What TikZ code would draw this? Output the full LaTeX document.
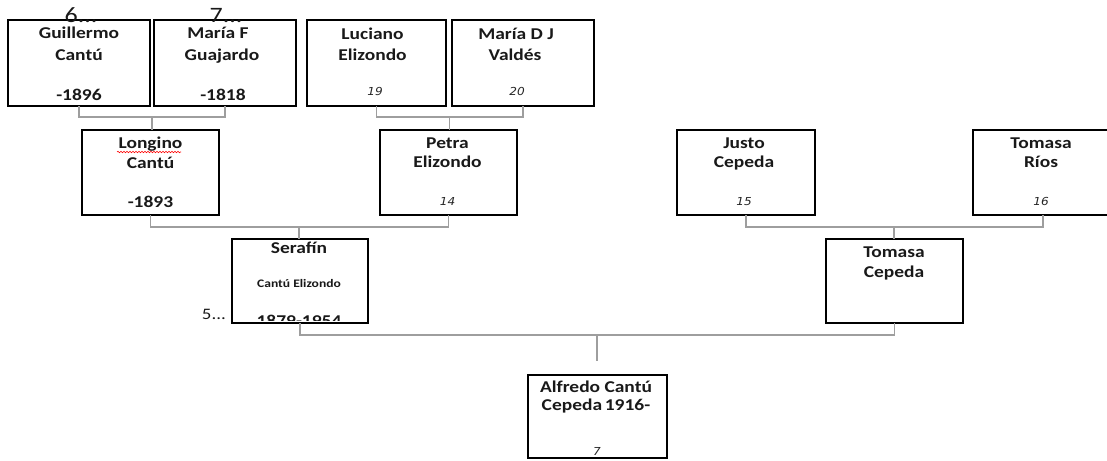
\documentclass[tikz,border=0pt]{standalone}
\usepackage{fontspec}
\setmainfont{Carlito}[FakeStretch=1.18]
\newfontfamily\numfont{DejaVu Sans}[FakeStretch=1.1]
\usetikzlibrary{decorations.pathmorphing}
\begin{document}
\begin{tikzpicture}[x=1pt,y=-1pt,
  box/.style={draw=black, line width=1.4pt, rectangle, inner sep=0pt, outer sep=0pt},
  conn/.style={draw=black!38, line width=1.3pt},
  nm/.style={font=\bfseries\fontsize{16.5}{19}\selectfont, anchor=base, inner sep=0pt, text=black!90},
  sm/.style={font=\bfseries\fontsize{11.5}{14}\selectfont, anchor=base, inner sep=0pt, text=black!90},
  num/.style={font=\numfont\itshape\fontsize{11}{12}\selectfont, anchor=base, inner sep=0pt, text=black!85},
  lab/.style={font=\fontsize{#1}{#1}\selectfont, anchor=base, inner sep=0pt, text=black!90}
]
\useasboundingbox (0,0) rectangle (1107,460);
\fill[white] (0,0) rectangle (1107,460);

% boxes
\node[box, minimum width=142, minimum height=86] (g)  at (79,63) {};
\node[box, minimum width=142, minimum height=86] (mf) at (225,63) {};
\node[box, minimum width=139, minimum height=86] (lu) at (376.5,63) {};
\node[box, minimum width=142, minimum height=86] (md) at (523,63) {};
\node[box, minimum width=137, minimum height=85] (lo) at (150.5,172.5) {};
\node[box, minimum width=137, minimum height=85] (pe) at (448.5,172.5) {};
\node[box, minimum width=138, minimum height=85] (ju) at (746,172.5) {};
\node[box, minimum width=140, minimum height=85] (tr) at (1043,172.5) {};
\node[box, minimum width=136, minimum height=84] (se) at (300,281) {};
\node[box, minimum width=137, minimum height=84] (tc) at (894.5,281) {};
\node[box, minimum width=139, minimum height=83] (al) at (597.5,416.5) {};

% connectors
\coordinate (j1) at (152,117);
\coordinate (j2) at (449.5,117);
\coordinate (j3) at (299,227);
\coordinate (j4) at (894,227);
\coordinate (j5) at (597,335);
\coordinate (e5) at (597,361);
\draw[conn] (g.south) |- (j1) -| (mf.south);
\draw[conn] (j1) -- (j1 |- lo.north);
\draw[conn] (lu.south) |- (j2) -| (md.south);
\draw[conn] (j2) -- (j2 |- pe.north);
\draw[conn] (lo.south) |- (j3) -| (pe.south);
\draw[conn] (j3) -- (j3 |- se.north);
\draw[conn] (ju.south) |- (j4) -| (tr.south);
\draw[conn] (j4) -- (j4 |- tc.north);
\draw[conn] (se.south) |- (j5) -| (tc.south);
\draw[conn] (j5) -- (e5);

% texts row 1
\node[nm] (t1) at (79,39) {Guillermo};
\node[nm] (t2) at (79,60) {Cantú};
\node[nm] (t3) at (79,100) {-1896};
\node[nm] (t4) at (218,39) {María F};
\node[nm] (t5) at (222,60) {Guajardo};
\node[nm] (t6) at (223,100) {-1818};
\node[nm] (t7) at (372.5,40) {Luciano};
\node[nm] (t8) at (372.5,60) {Elizondo};
\node[num] (t9) at (375,95) {19};
\node[nm] (t10) at (516,40) {María D J};
\node[nm] (t11) at (515,60) {Valdés};
\node[num] (t12) at (517,95) {20};
\node[lab=22] (l6) at (81,23) {6...};
\node[lab=22] (l7) at (226,23) {7...};

% row 2
\node[nm] (t13) at (150.5,148) {Longino};
\draw[red, line width=0.6pt, decorate, decoration={snake, amplitude=0.7pt, segment length=3pt}] (117,152) -- (181,152);
\node[nm] (t14) at (150.5,168) {Cantú};
\node[nm] (t15) at (150.5,207) {-1893};
\node[nm] (t16) at (447.5,148) {Petra};
\node[nm] (t17) at (447.5,167) {Elizondo};
\node[num] (t18) at (447.5,205) {14};
\node[nm] (t19) at (744,148) {Justo};
\node[nm] (t20) at (744,167) {Cepeda};
\node[num] (t21) at (744,205) {15};
\node[nm] (t22) at (1041,148) {Tomasa};
\node[nm] (t23) at (1041,167) {Ríos};
\node[num] (t24) at (1041,205) {16};

% row 3
\node[nm] (t25) at (299,253) {Serafín};
\node[sm] (t26) at (299,287) {Cantú Elizondo};
\begin{scope}
\clip (233,240) rectangle (367,320.5);
\node[nm] (t27) at (299,326) {1879-1954};
\end{scope}
\node[lab=16, anchor=base east] (l5) at (226,319) {5...};
\node[nm] (t28) at (894,257) {Tomasa};
\node[nm] (t29) at (894,277) {Cepeda};

% row 4
\node[nm] (t30) at (596,392) {Alfredo Cantú};
\node[nm] (t31) at (596,410) {Cepeda\,1916-};
\node[num] (t32) at (597,455) {7};
\end{tikzpicture}
\end{document}
